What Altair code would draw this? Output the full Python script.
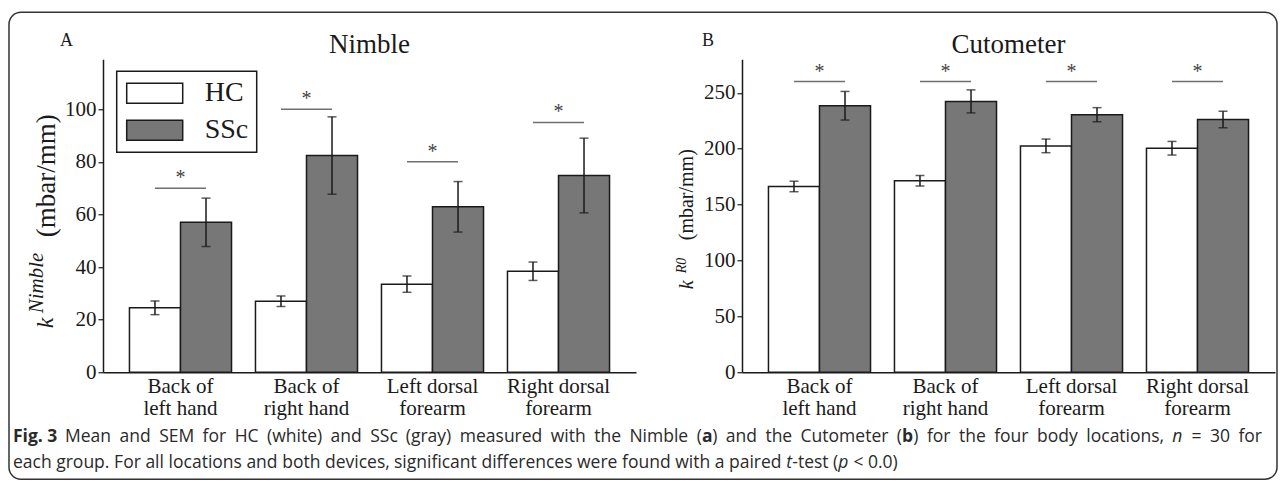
import altair as alt
import pandas as pd

# ---------------- data ----------------
locations = ["Back of|left hand", "Back of|right hand", "Left dorsal|forearm", "Right dorsal|forearm"]
groups = ["HC", "SSc"]

nimble_hc = [24.5, 27.0, 33.5, 38.4]
nimble_hc_sem = [2.6, 2.0, 3.1, 3.5]
nimble_ssc = [57.0, 82.4, 62.9, 74.8]
nimble_ssc_sem = [9.2, 14.7, 9.6, 14.2]
nimble_sig = [70, 100, 80, 95]
nimble_ticks = [0, 20, 40, 60, 80, 100]
nimble_max = 119

cuto_hc = [166.2, 171.3, 202.5, 200.4]
cuto_hc_sem = [4.7, 4.7, 6.1, 6.1]
cuto_ssc = [238.4, 242.3, 230.4, 226.1]
cuto_ssc_sem = [12.8, 10.3, 6.3, 7.4]
cuto_sig = [260, 260, 260, 260]
cuto_ticks = [0, 50, 100, 150, 200, 250]
cuto_max = 280

star = "*"
cap_bold = "Fig. 3"
cap_line1 = ("Mean and SEM for HC (white) and SSc (gray) measured with the Nimble (a) and the "
             "Cutometer (b) for the four body locations, n = 30 for")
cap_line2 = ("each group. For all locations and both devices, significant differences were found "
             "with a paired t-test (p < 0.0)")

SERIF = "Liberation Serif"
SANS = "Open Sans"
INK = "#1a1a1a"
CAP_INK = "#2a2a2a"
GRAY = "#777777"
PLOT_W = 533
PLOT_H = 313
CAP_SIZE = 17.5

# approximate Open Sans advance widths (em) used to lay the justified caption out
OS_W = {" ": 0.26, "a": 0.556, "b": 0.613, "c": 0.476, "d": 0.613, "e": 0.561, "f": 0.339,
        "g": 0.548, "h": 0.614, "i": 0.253, "j": 0.253, "k": 0.525, "l": 0.253, "m": 0.930,
        "n": 0.614, "o": 0.604, "p": 0.613, "q": 0.613, "r": 0.408, "s": 0.477, "t": 0.353,
        "u": 0.614, "v": 0.501, "w": 0.778, "x": 0.524, "y": 0.502, "z": 0.477,
        "C": 0.631, "E": 0.561, "F": 0.515, "H": 0.738, "M": 0.903, "N": 0.756, "S": 0.536,
        "(": 0.295, ")": 0.295, ",": 0.245, ".": 0.266, "=": 0.571, "<": 0.571, "-": 0.322,
        "0": 0.572, "3": 0.572}


def est_width(s, bold=False):
    w = sum(OS_W.get(c, 0.56) for c in s) * CAP_SIZE
    return w * (1.06 if bold else 1.0)


def segments(word):
    """split a caption word into (text, weight, style) pieces"""
    if word in ("(a)", "(b)"):
        return [("(", "normal", "normal"), (word[1], "bold", "normal"), (")", "normal", "normal")]
    if word == "n":
        return [("n", "normal", "italic")]
    if word == "t-test":
        return [("t", "normal", "italic"), ("-test", "normal", "normal")]
    if word == "(p":
        return [("(", "normal", "normal"), ("p", "normal", "italic")]
    return [(word, "normal", "normal")]


def make_df(hc, hc_sem, ssc, ssc_sem):
    rows = []
    for i, loc in enumerate(locations):
        for g, m, s in (("HC", hc[i], hc_sem[i]), ("SSc", ssc[i], ssc_sem[i])):
            rows.append({"location": loc, "group": g, "mean": m, "sem": s,
                         "lo": m - s, "hi": m + s})
    return pd.DataFrame(rows)


def text_layer(txt, x, y, size, style="normal", weight="normal", font=SERIF, angle=0,
               align="left", color=INK):
    return alt.Chart(pd.DataFrame({"t": [txt]})).mark_text(
        font=font, fontSize=size, fontStyle=style, fontWeight=weight, angle=angle,
        align=align, baseline="alphabetic", color=color, clip=False,
    ).encode(text="t:N", x=alt.value(x), y=alt.value(y))


def caption_line(text, x0, y, x1=None):
    words = text.split(" ")
    widths = [sum(est_width(t, w == "bold") for t, w, _ in segments(wd)) for wd in words]
    space = est_width(" ")
    if x1 is None:
        gap = space
    else:
        gap = (x1 - x0 - sum(widths)) / (len(words) - 1)
    layers = []
    x = x0
    for wd, wdt in zip(words, widths):
        sx = x
        for t, weight, style in segments(wd):
            layers.append(text_layer(t, round(sx, 1), y, CAP_SIZE, style=style, weight=weight,
                                     font=SANS, color=CAP_INK))
            sx += est_width(t, weight == "bold")
        x += wdt + gap
    return layers


def panel(df, sig, ymax, ticks, title, letter, ytitle_layers, extra=None):
    x = alt.X("location:N", sort=locations,
              scale=alt.Scale(paddingInner=0.19, paddingOuter=0.21),
              axis=alt.Axis(labelExpr="split(datum.label, '|')", ticks=False, labelAngle=0,
                            labelPadding=3, labelLineHeight=22, labelBaseline="top"),
              title=None)
    xo = alt.XOffset("group:N", sort=groups, scale=alt.Scale(paddingInner=0, paddingOuter=0))
    yscale = alt.Scale(domain=[0, ymax], nice=False, zero=True)
    yaxis = alt.Axis(values=ticks, tickSize=5, labelPadding=2, grid=False)

    base = alt.Chart(df)
    bars = base.mark_bar(stroke=INK, strokeWidth=1.5).encode(
        x=x, xOffset=xo,
        y=alt.Y("mean:Q", scale=yscale, axis=yaxis, title=None),
        fill=alt.Fill("group:N", sort=groups,
                      scale=alt.Scale(domain=groups, range=["#ffffff", GRAY]),
                      legend=alt.Legend(title=None, orient="none", legendX=13.7, legendY=12,
                                        symbolType="M-1.2,-1H4.4V1H-1.2Z", symbolSize=400,
                                        symbolStrokeColor=INK, symbolStrokeWidth=1.5,
                                        symbolOpacity=1,
                                        labelFont=SERIF, labelFontSize=28, labelColor=INK,
                                        labelOffset=52, labelBaseline="middle",
                                        padding=8, rowPadding=9,
                                        strokeColor=INK, fillColor="#ffffff")),
    )
    err = base.mark_rule(color=INK, strokeWidth=1.5).encode(
        x=x, xOffset=xo, y=alt.Y("lo:Q", title=None), y2="hi:Q")
    caps = base.transform_fold(["lo", "hi"], as_=["k", "v"]).mark_tick(
        color=INK, size=9, thickness=1.5).encode(x=x, xOffset=xo, y=alt.Y("v:Q", title=None))

    sdf = pd.DataFrame({"location": locations, "sig": sig, "star": [star] * len(sig)})
    sbase = alt.Chart(sdf)
    sline = sbase.mark_tick(color="#333333", size=51, thickness=1.5).encode(
        x=x, y=alt.Y("sig:Q", title=None))
    stext = sbase.mark_text(font=SERIF, fontSize=20, color="#444444", dy=-4,
                            baseline="alphabetic").encode(
        x=x, y=alt.Y("sig:Q", title=None), text="star:N")

    title_layer = text_layer(title, PLOT_W / 2, -6, 27, align="center")
    layers = [bars, err, caps, sline, stext, title_layer, letter] + ytitle_layers
    if extra:
        layers += extra
    return alt.layer(*layers).properties(width=PLOT_W, height=PLOT_H)


nimble_df = make_df(nimble_hc, nimble_hc_sem, nimble_ssc, nimble_ssc_sem)
cuto_df = make_df(cuto_hc, cuto_hc_sem, cuto_ssc, cuto_ssc_sem)

# y titles built from text pieces (k with superscript, then units)
left_ytitle = [
    text_layer("k", -50, 269, 24, style="italic", angle=270),
    text_layer("Nimble", -60, 254, 21, style="italic", angle=270),
    text_layer("(mbar/mm)", -48, 178, 27, angle=270),
]
right_ytitle = [
    text_layer("k", -49, 230, 20, style="italic", angle=270),
    text_layer("R0", -56, 214, 14, style="italic", angle=270),
    text_layer("(mbar/mm)", -49, 181, 20, angle=270),
]

frame = alt.Chart(pd.DataFrame({"f": [0]})).mark_rect(
    fill="#ffffff", fillOpacity=0, stroke="#333333", strokeWidth=1.5, cornerRadius=12, clip=False
).encode(x=alt.value(-94), x2=alt.value(1174), y=alt.value(-47), y2=alt.value(420))

caption = ([text_layer(cap_bold, -90, 383, CAP_SIZE, weight="bold", font=SANS, color=CAP_INK)]
           + caption_line(cap_line1, -38, 383, x1=1159)
           + caption_line(cap_line2, -90, 409))

left = panel(nimble_df, nimble_sig, nimble_max, nimble_ticks, "Nimble",
             text_layer("A", -43, -13, 18), left_ytitle, extra=[frame] + caption)
right = panel(cuto_df, cuto_sig, cuto_max, cuto_ticks, "Cutometer",
              text_layer("B", -40, -13, 18), right_ytitle)

chart = alt.hconcat(left, right, spacing=106, bounds="flush").properties(
    padding={"left": 7, "top": 10.25, "right": 0, "bottom": 0},
    background="#ffffff",
).configure_view(stroke="transparent").configure_axis(
    domainColor=INK, domainWidth=1.5, tickColor=INK, tickWidth=1.2,
    labelColor=INK, labelFont=SERIF, labelFontSize=21,
).configure_legend(strokeWidth=1.5)

chart.save("out.html", embed_options={"renderer": "svg", "actions": False})
